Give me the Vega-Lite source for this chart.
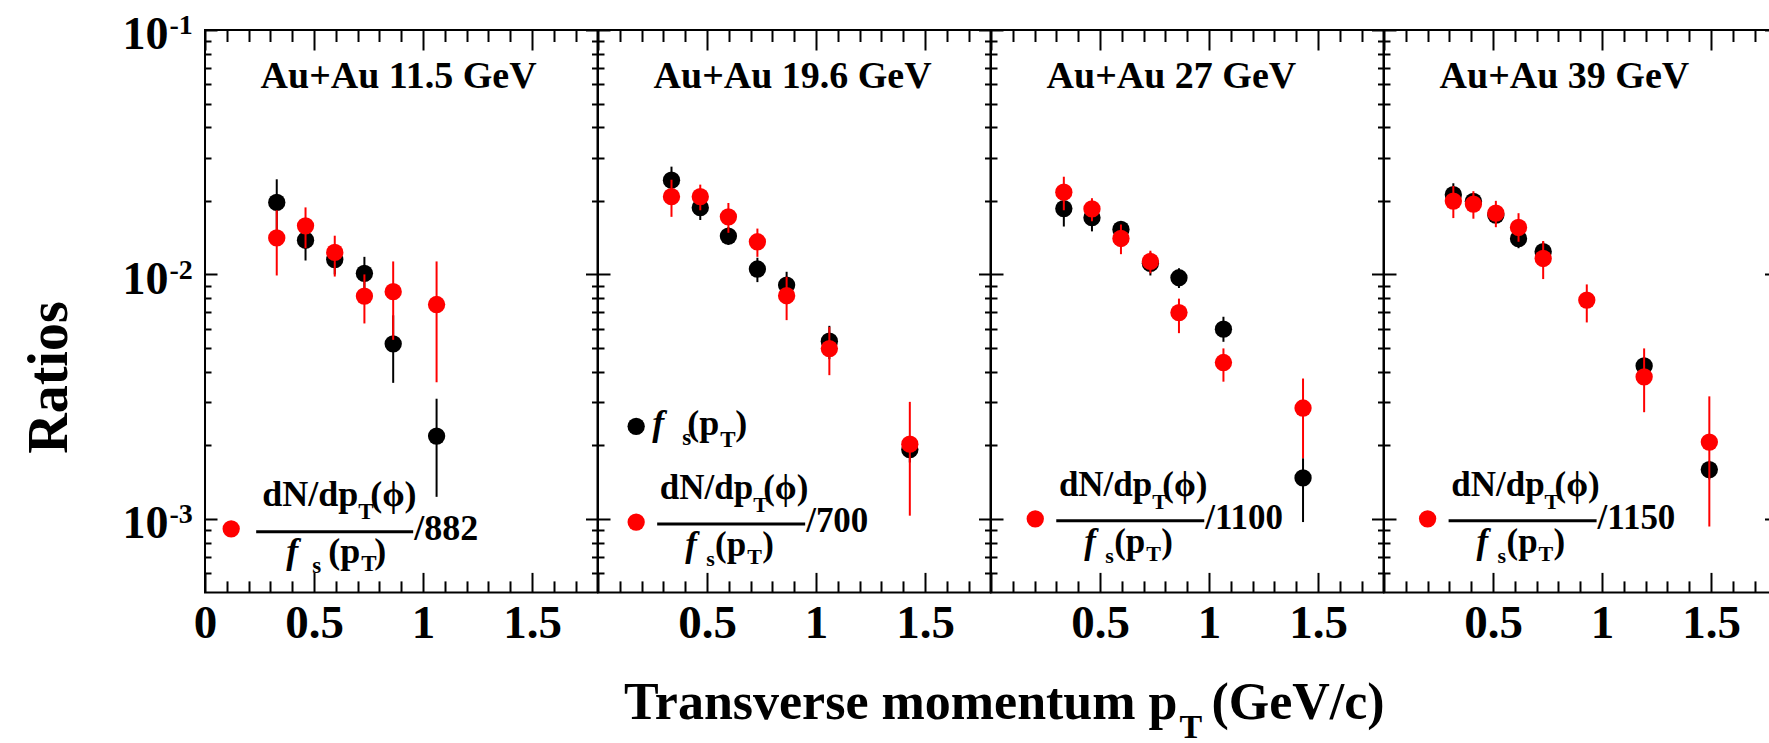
{
"$schema":"https://vega.github.io/schema/vega-lite/v6.json",
"background":"white",
"padding":{"left":20,"top":11,"right":0,"bottom":0},
"spacing":0,
"bounds":"flush",
"config":{
 "view":{"stroke":"#000000","strokeWidth":2},
 "axis":{"domain":false,"grid":false,"tickColor":"#000000","tickWidth":2,"labelColor":"#000000","labelFont":"Liberation Serif","labelFontWeight":"bold","titleColor":"#000000","titleFont":"Liberation Serif","titleFontWeight":"bold"},
 "text":{"font":"Liberation Serif","fontWeight":"bold","fill":"#000000"}
},
"datasets":{
 "pts":[
  {"p":1,"s":"fs","x":0.329,"y":0.0197,"lo":0.0149,"hi":0.0245},
  {"p":1,"s":"fs","x":0.461,"y":0.0138,"lo":0.0114,"hi":0.0162},
  {"p":1,"s":"fs","x":0.595,"y":0.0115,"lo":0.0100,"hi":0.0130},
  {"p":1,"s":"fs","x":0.731,"y":0.0101,"lo":0.0084,"hi":0.0118},
  {"p":1,"s":"fs","x":0.863,"y":0.0052,"lo":0.0036,"hi":0.0068},
  {"p":1,"s":"fs","x":1.062,"y":0.00218,"lo":0.00123,"hi":0.0031},
  {"p":1,"s":"r","x":0.329,"y":0.0141,"lo":0.0099,"hi":0.0183},
  {"p":1,"s":"r","x":0.461,"y":0.0158,"lo":0.0128,"hi":0.0188},
  {"p":1,"s":"r","x":0.595,"y":0.0123,"lo":0.0098,"hi":0.0144},
  {"p":1,"s":"r","x":0.731,"y":0.00815,"lo":0.0063,"hi":0.0100},
  {"p":1,"s":"r","x":0.863,"y":0.0085,"lo":0.0054,"hi":0.0113},
  {"p":1,"s":"r","x":1.062,"y":0.00753,"lo":0.00362,"hi":0.0113},
  {"p":2,"s":"fs","x":0.337,"y":0.0243,"lo":0.0213,"hi":0.0276},
  {"p":2,"s":"fs","x":0.469,"y":0.01875,"lo":0.0167,"hi":0.0208},
  {"p":2,"s":"fs","x":0.598,"y":0.01435,"lo":0.0132,"hi":0.0156},
  {"p":2,"s":"fs","x":0.731,"y":0.01052,"lo":0.0093,"hi":0.0117},
  {"p":2,"s":"fs","x":0.865,"y":0.00904,"lo":0.0080,"hi":0.01025},
  {"p":2,"s":"fs","x":1.061,"y":0.00533,"lo":0.0045,"hi":0.00616},
  {"p":2,"s":"fs","x":1.43,"y":0.00192,"lo":0.0017,"hi":0.0021},
  {"p":2,"s":"r","x":0.337,"y":0.0208,"lo":0.0172,"hi":0.0244},
  {"p":2,"s":"r","x":0.469,"y":0.0208,"lo":0.0183,"hi":0.0233},
  {"p":2,"s":"r","x":0.598,"y":0.0172,"lo":0.0148,"hi":0.0196},
  {"p":2,"s":"r","x":0.731,"y":0.0136,"lo":0.0118,"hi":0.0154},
  {"p":2,"s":"r","x":0.865,"y":0.00818,"lo":0.0065,"hi":0.00978},
  {"p":2,"s":"r","x":1.061,"y":0.00497,"lo":0.00387,"hi":0.0061},
  {"p":2,"s":"r","x":1.43,"y":0.00202,"lo":0.00103,"hi":0.00301},
  {"p":3,"s":"fs","x":0.334,"y":0.0186,"lo":0.0157,"hi":0.0215},
  {"p":3,"s":"fs","x":0.463,"y":0.01706,"lo":0.0150,"hi":0.0191},
  {"p":3,"s":"fs","x":0.596,"y":0.01528,"lo":0.0141,"hi":0.0165},
  {"p":3,"s":"fs","x":0.731,"y":0.0111,"lo":0.0099,"hi":0.0123},
  {"p":3,"s":"fs","x":0.862,"y":0.00969,"lo":0.0088,"hi":0.0106},
  {"p":3,"s":"fs","x":1.066,"y":0.00597,"lo":0.0053,"hi":0.00671},
  {"p":3,"s":"fs","x":1.431,"y":0.00147,"lo":0.00097,"hi":0.00177},
  {"p":3,"s":"r","x":0.334,"y":0.0217,"lo":0.0183,"hi":0.0251},
  {"p":3,"s":"r","x":0.463,"y":0.01853,"lo":0.0165,"hi":0.0205},
  {"p":3,"s":"r","x":0.596,"y":0.01403,"lo":0.0121,"hi":0.0160},
  {"p":3,"s":"r","x":0.731,"y":0.0113,"lo":0.0101,"hi":0.0125},
  {"p":3,"s":"r","x":0.862,"y":0.00698,"lo":0.00575,"hi":0.00796},
  {"p":3,"s":"r","x":1.066,"y":0.00436,"lo":0.00364,"hi":0.00498},
  {"p":3,"s":"r","x":1.431,"y":0.00284,"lo":0.00177,"hi":0.00375},
  {"p":4,"s":"fs","x":0.318,"y":0.0212,"lo":0.0195,"hi":0.0236},
  {"p":4,"s":"fs","x":0.410,"y":0.0199,"lo":0.0185,"hi":0.0213},
  {"p":4,"s":"fs","x":0.513,"y":0.0175,"lo":0.0162,"hi":0.0188},
  {"p":4,"s":"fs","x":0.617,"y":0.0140,"lo":0.0128,"hi":0.0152},
  {"p":4,"s":"fs","x":0.730,"y":0.0124,"lo":0.0112,"hi":0.0136},
  {"p":4,"s":"fs","x":1.193,"y":0.00422,"lo":0.0039,"hi":0.0046},
  {"p":4,"s":"fs","x":1.492,"y":0.00159,"lo":0.00145,"hi":0.00173},
  {"p":4,"s":"r","x":0.318,"y":0.01995,"lo":0.0170,"hi":0.0230},
  {"p":4,"s":"r","x":0.410,"y":0.0194,"lo":0.0169,"hi":0.0219},
  {"p":4,"s":"r","x":0.513,"y":0.0178,"lo":0.0156,"hi":0.0200},
  {"p":4,"s":"r","x":0.617,"y":0.01556,"lo":0.0136,"hi":0.0178},
  {"p":4,"s":"r","x":0.730,"y":0.01162,"lo":0.00957,"hi":0.0137},
  {"p":4,"s":"r","x":0.930,"y":0.00785,"lo":0.00636,"hi":0.0091},
  {"p":4,"s":"r","x":1.193,"y":0.00381,"lo":0.00273,"hi":0.00498},
  {"p":4,"s":"r","x":1.492,"y":0.00206,"lo":0.00093,"hi":0.00317}
 ],
 "ttl":[
  {"p":1,"x":0.255,"y":0.0577,"t":"Au+Au 11.5 GeV"},
  {"p":2,"x":0.255,"y":0.0577,"t":"Au+Au 19.6 GeV"},
  {"p":3,"x":0.255,"y":0.0577,"t":"Au+Au 27 GeV"},
  {"p":4,"x":0.255,"y":0.0577,"t":"Au+Au 39 GeV"}
 ],
 "leg":[
  {"p":1,"s":"r","x":0.12,"y":0.00091,"d":"/882"},
  {"p":2,"s":"r","x":0.175,"y":0.00097,"d":"/700"},
  {"p":2,"s":"fs","x":0.175,"y":0.00239,"d":""},
  {"p":3,"s":"r","x":0.203,"y":0.001,"d":"/1100"},
  {"p":4,"s":"r","x":0.2,"y":0.001,"d":"/1150"}
 ]
},
"hconcat":[
 {"width":392.5,"height":562.4,
  "resolve":{"axis":{"x":"independent","y":"independent"}},
  "layer":[
   {"data":{"name":"pts"},"transform":[{"filter":"datum.p==1&&datum.s=='fs'"}],
    "mark":{"type":"rule","color":"#000000","strokeWidth":2},
    "encoding":{
     "x":{"field":"x","type":"quantitative","scale":{"domain":[0,1.8],"nice":false,"zero":false},
      "axis":{"orient":"bottom","values":[0,0.5,1,1.5],"tickSize":-20,"labelFontSize":47,"labelPadding":28,"labelExpr":"''+datum.value","labelFlush":false,"labelOverlap":false,"labelBound":false,"title":null}},
     "y":{"field":"lo","type":"quantitative","scale":{"type":"log","domain":[0.0005,0.1],"nice":false},
      "axis":{"orient":"left","values":[0.001,0.01,0.1],"tickSize":-12,"labelFontSize":46,"labelPadding":49,"labelOffset":5,"labelExpr":"'10'","labelOverlap":false,"labelBound":false,"labelFlush":false,"title":"Ratios","titleFontSize":56,"titleX":-139,"titleY":347,"titleAlign":"center","titleBaseline":"alphabetic","titleAngle":-90}},
     "y2":{"field":"hi"}}},
   {"data":{"name":"pts"},"transform":[{"filter":"datum.p==1&&datum.s=='fs'"}],
    "mark":{"type":"point","shape":"circle","filled":true,"size":300,"color":"#000000","opacity":1},
    "encoding":{
     "x":{"field":"x","type":"quantitative","scale":{"domain":[0,1.8],"nice":false,"zero":false},
      "axis":{"orient":"bottom","values":[0.1,0.2,0.3,0.4,0.6,0.7,0.8,0.9,1.1,1.2,1.3,1.4,1.6,1.7],"tickSize":-11.5,"labels":false,"title":null}},
     "y":{"field":"y","type":"quantitative","scale":{"type":"log","domain":[0.0005,0.1],"nice":false},
      "axis":{"orient":"left","values":[0.0006,0.0007,0.0008,0.0009,0.002,0.003,0.004,0.005,0.006,0.007,0.008,0.009,0.02,0.03,0.04,0.05,0.06,0.07,0.08,0.09],"tickSize":-6,"labels":false,"title":null}}}},
   {"data":{"name":"pts"},"transform":[{"filter":"datum.p==1&&datum.s=='r'"}],
    "mark":{"type":"rule","color":"#ff0000","strokeWidth":2},
    "encoding":{
     "x":{"field":"x","type":"quantitative","scale":{"domain":[0,1.8],"nice":false,"zero":false},
      "axis":{"orient":"top","values":[0,0.5,1,1.5],"tickSize":-20,"labels":false,"title":null}},
     "y":{"field":"lo","type":"quantitative","scale":{"type":"log","domain":[0.0005,0.1],"nice":false},
      "axis":{"orient":"right","values":[0.001,0.01,0.1],"tickSize":-12,"labels":false,"title":null}},
     "y2":{"field":"hi"}}},
   {"data":{"name":"pts"},"transform":[{"filter":"datum.p==1&&datum.s=='r'"}],
    "mark":{"type":"point","shape":"circle","filled":true,"size":300,"color":"#ff0000","opacity":1},
    "encoding":{
     "x":{"field":"x","type":"quantitative","scale":{"domain":[0,1.8],"nice":false,"zero":false},
      "axis":{"orient":"top","values":[0.1,0.2,0.3,0.4,0.6,0.7,0.8,0.9,1.1,1.2,1.3,1.4,1.6,1.7],"tickSize":-11.5,"labels":false,"title":null}},
     "y":{"field":"y","type":"quantitative","scale":{"type":"log","domain":[0.0005,0.1],"nice":false},
      "axis":{"orient":"right","values":[0.0006,0.0007,0.0008,0.0009,0.002,0.003,0.004,0.005,0.006,0.007,0.008,0.009,0.02,0.03,0.04,0.05,0.06,0.07,0.08,0.09],"tickSize":-6,"labels":false,"title":null}}}},
   {"data":{"name":"ttl"},"transform":[{"filter":"datum.p==1"}],
    "mark":{"type":"text","align":"left","baseline":"alphabetic","fontSize":38,"font":"Liberation Serif","fontWeight":"bold","fill":"#000000"},
    "encoding":{"x":{"field":"x","type":"quantitative","scale":{"domain":[0,1.8],"nice":false,"zero":false},"axis":null},"y":{"field":"y","type":"quantitative","scale":{"type":"log","domain":[0.0005,0.1],"nice":false},
      "axis":{"orient":"left","values":[0.001,0.01,0.1],"ticks":false,"labelFontSize":28,"labelAlign":"left","labelBaseline":"middle","labelPadding":36,"labelOffset":-4,"labelExpr":"datum.value<0.005?'-3':datum.value<0.05?'-2':'-1'","labelOverlap":false,"labelBound":false,"labelFlush":false,"title":null}},"text":{"field":"t"}}},
   {"data":{"name":"leg"},"transform":[{"filter":"datum.p==1"}],
    "mark":{"type":"point","shape":"circle","filled":true,"size":300,"opacity":1},
    "encoding":{"x":{"field":"x","type":"quantitative","scale":{"domain":[0,1.8],"nice":false,"zero":false},"axis":null},"y":{"field":"y","type":"quantitative","scale":{"type":"log","domain":[0.0005,0.1],"nice":false},"axis":null},
     "color":{"field":"s","type":"nominal","scale":{"domain":["fs","r"],"range":["#000000","#ff0000"]},"legend":null}}},
   {"data":{"name":"leg"},"transform":[{"filter":"datum.p==1&&datum.s=='r'"}],
    "mark":{"type":"text","text":"dN/dp","align":"right","baseline":"alphabetic","dx":127,"dy":-23,"fontSize":36,"font":"Liberation Serif","fontWeight":"bold","fill":"#000000"},
    "encoding":{"x":{"field":"x","type":"quantitative","scale":{"domain":[0,1.8],"nice":false,"zero":false},"axis":null},"y":{"field":"y","type":"quantitative","scale":{"type":"log","domain":[0.0005,0.1],"nice":false},"axis":null}}},
   {"data":{"name":"leg"},"transform":[{"filter":"datum.p==1&&datum.s=='r'"}],
    "mark":{"type":"text","text":"T","align":"left","baseline":"alphabetic","dx":127,"dy":-10,"fontSize":23,"font":"Liberation Serif","fontWeight":"bold","fill":"#000000"},
    "encoding":{"x":{"field":"x","type":"quantitative","scale":{"domain":[0,1.8],"nice":false,"zero":false},"axis":null},"y":{"field":"y","type":"quantitative","scale":{"type":"log","domain":[0.0005,0.1],"nice":false},"axis":null}}},
   {"data":{"name":"leg"},"transform":[{"filter":"datum.p==1&&datum.s=='r'"}],
    "mark":{"type":"text","text":"(ϕ)","align":"left","baseline":"alphabetic","dx":139,"dy":-23,"fontSize":36,"font":"Liberation Serif","fontWeight":"bold","fill":"#000000"},
    "encoding":{"x":{"field":"x","type":"quantitative","scale":{"domain":[0,1.8],"nice":false,"zero":false},"axis":null},"y":{"field":"y","type":"quantitative","scale":{"type":"log","domain":[0.0005,0.1],"nice":false},"axis":null}}},
   {"data":{"name":"leg"},"transform":[{"filter":"datum.p==1&&datum.s=='r'"}],
    "mark":{"type":"rule","color":"#000000","strokeWidth":3,"xOffset":25,"x2Offset":182,"yOffset":3},
    "encoding":{"x":{"field":"x","type":"quantitative","scale":{"domain":[0,1.8],"nice":false,"zero":false},"axis":null},"x2":{"field":"x"},"y":{"field":"y","type":"quantitative","scale":{"type":"log","domain":[0.0005,0.1],"nice":false},"axis":null}}},
   {"data":{"name":"leg"},"transform":[{"filter":"datum.p==1&&datum.s=='r'"}],
    "mark":{"type":"text","text":"f","align":"left","baseline":"alphabetic","dx":55,"dy":34,"fontSize":36,"fontStyle":"italic","font":"Liberation Serif","fontWeight":"bold","fill":"#000000"},
    "encoding":{"x":{"field":"x","type":"quantitative","scale":{"domain":[0,1.8],"nice":false,"zero":false},"axis":null},"y":{"field":"y","type":"quantitative","scale":{"type":"log","domain":[0.0005,0.1],"nice":false},"axis":null}}},
   {"data":{"name":"leg"},"transform":[{"filter":"datum.p==1&&datum.s=='r'"}],
    "mark":{"type":"text","text":"s","align":"left","baseline":"alphabetic","dx":81,"dy":44,"fontSize":23,"font":"Liberation Serif","fontWeight":"bold","fill":"#000000"},
    "encoding":{"x":{"field":"x","type":"quantitative","scale":{"domain":[0,1.8],"nice":false,"zero":false},"axis":null},"y":{"field":"y","type":"quantitative","scale":{"type":"log","domain":[0.0005,0.1],"nice":false},"axis":null}}},
   {"data":{"name":"leg"},"transform":[{"filter":"datum.p==1&&datum.s=='r'"}],
    "mark":{"type":"text","text":"(p","align":"right","baseline":"alphabetic","dx":129,"dy":34,"fontSize":36,"font":"Liberation Serif","fontWeight":"bold","fill":"#000000"},
    "encoding":{"x":{"field":"x","type":"quantitative","scale":{"domain":[0,1.8],"nice":false,"zero":false},"axis":null},"y":{"field":"y","type":"quantitative","scale":{"type":"log","domain":[0.0005,0.1],"nice":false},"axis":null}}},
   {"data":{"name":"leg"},"transform":[{"filter":"datum.p==1&&datum.s=='r'"}],
    "mark":{"type":"text","text":"T","align":"left","baseline":"alphabetic","dx":130,"dy":42,"fontSize":23,"font":"Liberation Serif","fontWeight":"bold","fill":"#000000"},
    "encoding":{"x":{"field":"x","type":"quantitative","scale":{"domain":[0,1.8],"nice":false,"zero":false},"axis":null},"y":{"field":"y","type":"quantitative","scale":{"type":"log","domain":[0.0005,0.1],"nice":false},"axis":null}}},
   {"data":{"name":"leg"},"transform":[{"filter":"datum.p==1&&datum.s=='r'"}],
    "mark":{"type":"text","text":")","align":"left","baseline":"alphabetic","dx":143,"dy":34,"fontSize":36,"font":"Liberation Serif","fontWeight":"bold","fill":"#000000"},
    "encoding":{"x":{"field":"x","type":"quantitative","scale":{"domain":[0,1.8],"nice":false,"zero":false},"axis":null},"y":{"field":"y","type":"quantitative","scale":{"type":"log","domain":[0.0005,0.1],"nice":false},"axis":null}}},
   {"data":{"name":"leg"},"transform":[{"filter":"datum.p==1&&datum.s=='r'"}],
    "mark":{"type":"text","align":"left","baseline":"alphabetic","dx":183,"dy":11,"fontSize":36,"font":"Liberation Serif","fontWeight":"bold","fill":"#000000"},
    "encoding":{"x":{"field":"x","type":"quantitative","scale":{"domain":[0,1.8],"nice":false,"zero":false},"axis":null},"y":{"field":"y","type":"quantitative","scale":{"type":"log","domain":[0.0005,0.1],"nice":false},"axis":null},"text":{"field":"d"}}}
  ]},
 {"width":392.5,"height":562.4,
  "resolve":{"axis":{"x":"independent","y":"independent"}},
  "layer":[
   {"data":{"name":"pts"},"transform":[{"filter":"datum.p==2&&datum.s=='fs'"}],
    "mark":{"type":"rule","color":"#000000","strokeWidth":2},
    "encoding":{
     "x":{"field":"x","type":"quantitative","scale":{"domain":[0,1.8],"nice":false,"zero":false},
      "axis":{"orient":"bottom","values":[0,0.5,1,1.5],"tickSize":-20,"labelFontSize":47,"labelPadding":28,"labelExpr":"datum.value==0?'':''+datum.value","labelFlush":false,"labelOverlap":false,"labelBound":false,"title":"Transverse momentum p","titleFontSize":52,"titleAlign":"right","titleBaseline":"alphabetic","titleX":579,"titleY":126,"titleAngle":0}},
     "y":{"field":"lo","type":"quantitative","scale":{"type":"log","domain":[0.0005,0.1],"nice":false},
      "axis":{"orient":"left","values":[0.001,0.01,0.1],"tickSize":-12,"labels":false,"title":null}},
     "y2":{"field":"hi"}}},
   {"data":{"name":"pts"},"transform":[{"filter":"datum.p==2&&datum.s=='fs'"}],
    "mark":{"type":"point","shape":"circle","filled":true,"size":300,"color":"#000000","opacity":1},
    "encoding":{
     "x":{"field":"x","type":"quantitative","scale":{"domain":[0,1.8],"nice":false,"zero":false},
      "axis":{"orient":"bottom","values":[0.1,0.2,0.3,0.4,0.6,0.7,0.8,0.9,1.1,1.2,1.3,1.4,1.6,1.7],"tickSize":-11.5,"labels":false,"title":"T","titleFontSize":34,"titleAlign":"left","titleBaseline":"alphabetic","titleX":581,"titleY":145,"titleAngle":0}},
     "y":{"field":"y","type":"quantitative","scale":{"type":"log","domain":[0.0005,0.1],"nice":false},
      "axis":{"orient":"left","values":[0.0006,0.0007,0.0008,0.0009,0.002,0.003,0.004,0.005,0.006,0.007,0.008,0.009,0.02,0.03,0.04,0.05,0.06,0.07,0.08,0.09],"tickSize":-6,"labels":false,"title":null}}}},
   {"data":{"name":"pts"},"transform":[{"filter":"datum.p==2&&datum.s=='r'"}],
    "mark":{"type":"rule","color":"#ff0000","strokeWidth":2},
    "encoding":{
     "x":{"field":"x","type":"quantitative","scale":{"domain":[0,1.8],"nice":false,"zero":false},
      "axis":{"orient":"top","values":[0,0.5,1,1.5],"tickSize":-20,"labels":false,"title":null}},
     "y":{"field":"lo","type":"quantitative","scale":{"type":"log","domain":[0.0005,0.1],"nice":false},
      "axis":{"orient":"right","values":[0.001,0.01,0.1],"tickSize":-12,"labels":false,"title":null}},
     "y2":{"field":"hi"}}},
   {"data":{"name":"pts"},"transform":[{"filter":"datum.p==2&&datum.s=='r'"}],
    "mark":{"type":"point","shape":"circle","filled":true,"size":300,"color":"#ff0000","opacity":1},
    "encoding":{
     "x":{"field":"x","type":"quantitative","scale":{"domain":[0,1.8],"nice":false,"zero":false},
      "axis":{"orient":"top","values":[0.1,0.2,0.3,0.4,0.6,0.7,0.8,0.9,1.1,1.2,1.3,1.4,1.6,1.7],"tickSize":-11.5,"labels":false,"title":null}},
     "y":{"field":"y","type":"quantitative","scale":{"type":"log","domain":[0.0005,0.1],"nice":false},
      "axis":{"orient":"right","values":[0.0006,0.0007,0.0008,0.0009,0.002,0.003,0.004,0.005,0.006,0.007,0.008,0.009,0.02,0.03,0.04,0.05,0.06,0.07,0.08,0.09],"tickSize":-6,"labels":false,"title":null}}}},
   {"data":{"name":"ttl"},"transform":[{"filter":"datum.p==2"}],
    "mark":{"type":"text","align":"left","baseline":"alphabetic","fontSize":38,"font":"Liberation Serif","fontWeight":"bold","fill":"#000000"},
    "encoding":{"x":{"field":"x","type":"quantitative","scale":{"domain":[0,1.8],"nice":false,"zero":false},"axis":null},"y":{"field":"y","type":"quantitative","scale":{"type":"log","domain":[0.0005,0.1],"nice":false},"axis":null},"text":{"field":"t"}}},
   {"data":{"name":"leg"},"transform":[{"filter":"datum.p==2"}],
    "mark":{"type":"point","shape":"circle","filled":true,"size":300,"opacity":1},
    "encoding":{"x":{"field":"x","type":"quantitative","scale":{"domain":[0,1.8],"nice":false,"zero":false},"axis":null},"y":{"field":"y","type":"quantitative","scale":{"type":"log","domain":[0.0005,0.1],"nice":false},"axis":null},
     "color":{"field":"s","type":"nominal","scale":{"domain":["fs","r"],"range":["#000000","#ff0000"]},"legend":null}}},
   {"data":{"name":"leg"},"transform":[{"filter":"datum.p==2&&datum.s=='r'"}],
    "mark":{"type":"text","text":"dN/dp","align":"right","baseline":"alphabetic","dx":117,"dy":-23,"fontSize":35,"font":"Liberation Serif","fontWeight":"bold","fill":"#000000"},
    "encoding":{"x":{"field":"x","type":"quantitative","scale":{"domain":[0,1.8],"nice":false,"zero":false},"axis":null},"y":{"field":"y","type":"quantitative","scale":{"type":"log","domain":[0.0005,0.1],"nice":false},"axis":null}}},
   {"data":{"name":"leg"},"transform":[{"filter":"datum.p==2&&datum.s=='r'"}],
    "mark":{"type":"text","text":"T","align":"left","baseline":"alphabetic","dx":117,"dy":-10,"fontSize":22,"font":"Liberation Serif","fontWeight":"bold","fill":"#000000"},
    "encoding":{"x":{"field":"x","type":"quantitative","scale":{"domain":[0,1.8],"nice":false,"zero":false},"axis":null},"y":{"field":"y","type":"quantitative","scale":{"type":"log","domain":[0.0005,0.1],"nice":false},"axis":null}}},
   {"data":{"name":"leg"},"transform":[{"filter":"datum.p==2&&datum.s=='r'"}],
    "mark":{"type":"text","text":"(ϕ)","align":"left","baseline":"alphabetic","dx":127,"dy":-23,"fontSize":35,"font":"Liberation Serif","fontWeight":"bold","fill":"#000000"},
    "encoding":{"x":{"field":"x","type":"quantitative","scale":{"domain":[0,1.8],"nice":false,"zero":false},"axis":null},"y":{"field":"y","type":"quantitative","scale":{"type":"log","domain":[0.0005,0.1],"nice":false},"axis":null}}},
   {"data":{"name":"leg"},"transform":[{"filter":"datum.p==2&&datum.s=='r'"}],
    "mark":{"type":"rule","color":"#000000","strokeWidth":3,"xOffset":21,"x2Offset":169,"yOffset":2},
    "encoding":{"x":{"field":"x","type":"quantitative","scale":{"domain":[0,1.8],"nice":false,"zero":false},"axis":null},"x2":{"field":"x"},"y":{"field":"y","type":"quantitative","scale":{"type":"log","domain":[0.0005,0.1],"nice":false},"axis":null}}},
   {"data":{"name":"leg"},"transform":[{"filter":"datum.p==2&&datum.s=='r'"}],
    "mark":{"type":"text","text":"f","align":"left","baseline":"alphabetic","dx":49,"dy":34,"fontSize":35,"fontStyle":"italic","font":"Liberation Serif","fontWeight":"bold","fill":"#000000"},
    "encoding":{"x":{"field":"x","type":"quantitative","scale":{"domain":[0,1.8],"nice":false,"zero":false},"axis":null},"y":{"field":"y","type":"quantitative","scale":{"type":"log","domain":[0.0005,0.1],"nice":false},"axis":null}}},
   {"data":{"name":"leg"},"transform":[{"filter":"datum.p==2&&datum.s=='r'"}],
    "mark":{"type":"text","text":"s","align":"left","baseline":"alphabetic","dx":70,"dy":44,"fontSize":22,"font":"Liberation Serif","fontWeight":"bold","fill":"#000000"},
    "encoding":{"x":{"field":"x","type":"quantitative","scale":{"domain":[0,1.8],"nice":false,"zero":false},"axis":null},"y":{"field":"y","type":"quantitative","scale":{"type":"log","domain":[0.0005,0.1],"nice":false},"axis":null}}},
   {"data":{"name":"leg"},"transform":[{"filter":"datum.p==2&&datum.s=='r'"}],
    "mark":{"type":"text","text":"(p","align":"right","baseline":"alphabetic","dx":110,"dy":34,"fontSize":35,"font":"Liberation Serif","fontWeight":"bold","fill":"#000000"},
    "encoding":{"x":{"field":"x","type":"quantitative","scale":{"domain":[0,1.8],"nice":false,"zero":false},"axis":null},"y":{"field":"y","type":"quantitative","scale":{"type":"log","domain":[0.0005,0.1],"nice":false},"axis":null}}},
   {"data":{"name":"leg"},"transform":[{"filter":"datum.p==2&&datum.s=='r'"}],
    "mark":{"type":"text","text":"T","align":"left","baseline":"alphabetic","dx":111,"dy":42,"fontSize":22,"font":"Liberation Serif","fontWeight":"bold","fill":"#000000"},
    "encoding":{"x":{"field":"x","type":"quantitative","scale":{"domain":[0,1.8],"nice":false,"zero":false},"axis":null},"y":{"field":"y","type":"quantitative","scale":{"type":"log","domain":[0.0005,0.1],"nice":false},"axis":null}}},
   {"data":{"name":"leg"},"transform":[{"filter":"datum.p==2&&datum.s=='r'"}],
    "mark":{"type":"text","text":")","align":"left","baseline":"alphabetic","dx":126,"dy":34,"fontSize":35,"font":"Liberation Serif","fontWeight":"bold","fill":"#000000"},
    "encoding":{"x":{"field":"x","type":"quantitative","scale":{"domain":[0,1.8],"nice":false,"zero":false},"axis":null},"y":{"field":"y","type":"quantitative","scale":{"type":"log","domain":[0.0005,0.1],"nice":false},"axis":null}}},
   {"data":{"name":"leg"},"transform":[{"filter":"datum.p==2&&datum.s=='r'"}],
    "mark":{"type":"text","align":"left","baseline":"alphabetic","dx":170,"dy":10,"fontSize":35,"font":"Liberation Serif","fontWeight":"bold","fill":"#000000"},
    "encoding":{"x":{"field":"x","type":"quantitative","scale":{"domain":[0,1.8],"nice":false,"zero":false},"axis":null},"y":{"field":"y","type":"quantitative","scale":{"type":"log","domain":[0.0005,0.1],"nice":false},"axis":null},"text":{"field":"d"}}},
   {"data":{"name":"leg"},"transform":[{"filter":"datum.p==2&&datum.s=='fs'"}],
    "mark":{"type":"text","text":"f","align":"left","baseline":"alphabetic","dx":16,"dy":9,"fontSize":36,"fontStyle":"italic","font":"Liberation Serif","fontWeight":"bold","fill":"#000000"},
    "encoding":{"x":{"field":"x","type":"quantitative","scale":{"domain":[0,1.8],"nice":false,"zero":false},"axis":null},"y":{"field":"y","type":"quantitative","scale":{"type":"log","domain":[0.0005,0.1],"nice":false},"axis":null}}},
   {"data":{"name":"leg"},"transform":[{"filter":"datum.p==2&&datum.s=='fs'"}],
    "mark":{"type":"text","text":"s","align":"left","baseline":"alphabetic","dx":46,"dy":19,"fontSize":23,"font":"Liberation Serif","fontWeight":"bold","fill":"#000000"},
    "encoding":{"x":{"field":"x","type":"quantitative","scale":{"domain":[0,1.8],"nice":false,"zero":false},"axis":null},"y":{"field":"y","type":"quantitative","scale":{"type":"log","domain":[0.0005,0.1],"nice":false},"axis":null}}},
   {"data":{"name":"leg"},"transform":[{"filter":"datum.p==2&&datum.s=='fs'"}],
    "mark":{"type":"text","text":"(p","align":"right","baseline":"alphabetic","dx":83,"dy":9,"fontSize":36,"font":"Liberation Serif","fontWeight":"bold","fill":"#000000"},
    "encoding":{"x":{"field":"x","type":"quantitative","scale":{"domain":[0,1.8],"nice":false,"zero":false},"axis":null},"y":{"field":"y","type":"quantitative","scale":{"type":"log","domain":[0.0005,0.1],"nice":false},"axis":null}}},
   {"data":{"name":"leg"},"transform":[{"filter":"datum.p==2&&datum.s=='fs'"}],
    "mark":{"type":"text","text":"T","align":"left","baseline":"alphabetic","dx":84,"dy":21,"fontSize":23,"font":"Liberation Serif","fontWeight":"bold","fill":"#000000"},
    "encoding":{"x":{"field":"x","type":"quantitative","scale":{"domain":[0,1.8],"nice":false,"zero":false},"axis":null},"y":{"field":"y","type":"quantitative","scale":{"type":"log","domain":[0.0005,0.1],"nice":false},"axis":null}}},
   {"data":{"name":"leg"},"transform":[{"filter":"datum.p==2&&datum.s=='fs'"}],
    "mark":{"type":"text","text":")","align":"left","baseline":"alphabetic","dx":99,"dy":9,"fontSize":36,"font":"Liberation Serif","fontWeight":"bold","fill":"#000000"},
    "encoding":{"x":{"field":"x","type":"quantitative","scale":{"domain":[0,1.8],"nice":false,"zero":false},"axis":null},"y":{"field":"y","type":"quantitative","scale":{"type":"log","domain":[0.0005,0.1],"nice":false},"axis":null}}}
  ]},
 {"width":392.5,"height":562.4,
  "resolve":{"axis":{"x":"independent","y":"independent"}},
  "layer":[
   {"data":{"name":"pts"},"transform":[{"filter":"datum.p==3&&datum.s=='fs'"}],
    "mark":{"type":"rule","color":"#000000","strokeWidth":2},
    "encoding":{
     "x":{"field":"x","type":"quantitative","scale":{"domain":[0,1.8],"nice":false,"zero":false},
      "axis":{"orient":"bottom","values":[0,0.5,1,1.5],"tickSize":-20,"labelFontSize":47,"labelPadding":28,"labelExpr":"datum.value==0?'':''+datum.value","labelFlush":false,"labelOverlap":false,"labelBound":false,"title":"(GeV/c)","titleFontSize":52,"titleAlign":"left","titleBaseline":"alphabetic","titleX":220,"titleY":126,"titleAngle":0}},
     "y":{"field":"lo","type":"quantitative","scale":{"type":"log","domain":[0.0005,0.1],"nice":false},
      "axis":{"orient":"left","values":[0.001,0.01,0.1],"tickSize":-12,"labels":false,"title":null}},
     "y2":{"field":"hi"}}},
   {"data":{"name":"pts"},"transform":[{"filter":"datum.p==3&&datum.s=='fs'"}],
    "mark":{"type":"point","shape":"circle","filled":true,"size":300,"color":"#000000","opacity":1},
    "encoding":{
     "x":{"field":"x","type":"quantitative","scale":{"domain":[0,1.8],"nice":false,"zero":false},
      "axis":{"orient":"bottom","values":[0.1,0.2,0.3,0.4,0.6,0.7,0.8,0.9,1.1,1.2,1.3,1.4,1.6,1.7],"tickSize":-11.5,"labels":false,"title":null}},
     "y":{"field":"y","type":"quantitative","scale":{"type":"log","domain":[0.0005,0.1],"nice":false},
      "axis":{"orient":"left","values":[0.0006,0.0007,0.0008,0.0009,0.002,0.003,0.004,0.005,0.006,0.007,0.008,0.009,0.02,0.03,0.04,0.05,0.06,0.07,0.08,0.09],"tickSize":-6,"labels":false,"title":null}}}},
   {"data":{"name":"pts"},"transform":[{"filter":"datum.p==3&&datum.s=='r'"}],
    "mark":{"type":"rule","color":"#ff0000","strokeWidth":2},
    "encoding":{
     "x":{"field":"x","type":"quantitative","scale":{"domain":[0,1.8],"nice":false,"zero":false},
      "axis":{"orient":"top","values":[0,0.5,1,1.5],"tickSize":-20,"labels":false,"title":null}},
     "y":{"field":"lo","type":"quantitative","scale":{"type":"log","domain":[0.0005,0.1],"nice":false},
      "axis":{"orient":"right","values":[0.001,0.01,0.1],"tickSize":-12,"labels":false,"title":null}},
     "y2":{"field":"hi"}}},
   {"data":{"name":"pts"},"transform":[{"filter":"datum.p==3&&datum.s=='r'"}],
    "mark":{"type":"point","shape":"circle","filled":true,"size":300,"color":"#ff0000","opacity":1},
    "encoding":{
     "x":{"field":"x","type":"quantitative","scale":{"domain":[0,1.8],"nice":false,"zero":false},
      "axis":{"orient":"top","values":[0.1,0.2,0.3,0.4,0.6,0.7,0.8,0.9,1.1,1.2,1.3,1.4,1.6,1.7],"tickSize":-11.5,"labels":false,"title":null}},
     "y":{"field":"y","type":"quantitative","scale":{"type":"log","domain":[0.0005,0.1],"nice":false},
      "axis":{"orient":"right","values":[0.0006,0.0007,0.0008,0.0009,0.002,0.003,0.004,0.005,0.006,0.007,0.008,0.009,0.02,0.03,0.04,0.05,0.06,0.07,0.08,0.09],"tickSize":-6,"labels":false,"title":null}}}},
   {"data":{"name":"ttl"},"transform":[{"filter":"datum.p==3"}],
    "mark":{"type":"text","align":"left","baseline":"alphabetic","fontSize":38,"font":"Liberation Serif","fontWeight":"bold","fill":"#000000"},
    "encoding":{"x":{"field":"x","type":"quantitative","scale":{"domain":[0,1.8],"nice":false,"zero":false},"axis":null},"y":{"field":"y","type":"quantitative","scale":{"type":"log","domain":[0.0005,0.1],"nice":false},"axis":null},"text":{"field":"t"}}},
   {"data":{"name":"leg"},"transform":[{"filter":"datum.p==3"}],
    "mark":{"type":"point","shape":"circle","filled":true,"size":300,"opacity":1},
    "encoding":{"x":{"field":"x","type":"quantitative","scale":{"domain":[0,1.8],"nice":false,"zero":false},"axis":null},"y":{"field":"y","type":"quantitative","scale":{"type":"log","domain":[0.0005,0.1],"nice":false},"axis":null},
     "color":{"field":"s","type":"nominal","scale":{"domain":["fs","r"],"range":["#000000","#ff0000"]},"legend":null}}},
   {"data":{"name":"leg"},"transform":[{"filter":"datum.p==3&&datum.s=='r'"}],
    "mark":{"type":"text","text":"dN/dp","align":"right","baseline":"alphabetic","dx":117,"dy":-23,"fontSize":35,"font":"Liberation Serif","fontWeight":"bold","fill":"#000000"},
    "encoding":{"x":{"field":"x","type":"quantitative","scale":{"domain":[0,1.8],"nice":false,"zero":false},"axis":null},"y":{"field":"y","type":"quantitative","scale":{"type":"log","domain":[0.0005,0.1],"nice":false},"axis":null}}},
   {"data":{"name":"leg"},"transform":[{"filter":"datum.p==3&&datum.s=='r'"}],
    "mark":{"type":"text","text":"T","align":"left","baseline":"alphabetic","dx":117,"dy":-10,"fontSize":22,"font":"Liberation Serif","fontWeight":"bold","fill":"#000000"},
    "encoding":{"x":{"field":"x","type":"quantitative","scale":{"domain":[0,1.8],"nice":false,"zero":false},"axis":null},"y":{"field":"y","type":"quantitative","scale":{"type":"log","domain":[0.0005,0.1],"nice":false},"axis":null}}},
   {"data":{"name":"leg"},"transform":[{"filter":"datum.p==3&&datum.s=='r'"}],
    "mark":{"type":"text","text":"(ϕ)","align":"left","baseline":"alphabetic","dx":127,"dy":-23,"fontSize":35,"font":"Liberation Serif","fontWeight":"bold","fill":"#000000"},
    "encoding":{"x":{"field":"x","type":"quantitative","scale":{"domain":[0,1.8],"nice":false,"zero":false},"axis":null},"y":{"field":"y","type":"quantitative","scale":{"type":"log","domain":[0.0005,0.1],"nice":false},"axis":null}}},
   {"data":{"name":"leg"},"transform":[{"filter":"datum.p==3&&datum.s=='r'"}],
    "mark":{"type":"rule","color":"#000000","strokeWidth":3,"xOffset":21,"x2Offset":169,"yOffset":2},
    "encoding":{"x":{"field":"x","type":"quantitative","scale":{"domain":[0,1.8],"nice":false,"zero":false},"axis":null},"x2":{"field":"x"},"y":{"field":"y","type":"quantitative","scale":{"type":"log","domain":[0.0005,0.1],"nice":false},"axis":null}}},
   {"data":{"name":"leg"},"transform":[{"filter":"datum.p==3&&datum.s=='r'"}],
    "mark":{"type":"text","text":"f","align":"left","baseline":"alphabetic","dx":49,"dy":34,"fontSize":35,"fontStyle":"italic","font":"Liberation Serif","fontWeight":"bold","fill":"#000000"},
    "encoding":{"x":{"field":"x","type":"quantitative","scale":{"domain":[0,1.8],"nice":false,"zero":false},"axis":null},"y":{"field":"y","type":"quantitative","scale":{"type":"log","domain":[0.0005,0.1],"nice":false},"axis":null}}},
   {"data":{"name":"leg"},"transform":[{"filter":"datum.p==3&&datum.s=='r'"}],
    "mark":{"type":"text","text":"s","align":"left","baseline":"alphabetic","dx":70,"dy":44,"fontSize":22,"font":"Liberation Serif","fontWeight":"bold","fill":"#000000"},
    "encoding":{"x":{"field":"x","type":"quantitative","scale":{"domain":[0,1.8],"nice":false,"zero":false},"axis":null},"y":{"field":"y","type":"quantitative","scale":{"type":"log","domain":[0.0005,0.1],"nice":false},"axis":null}}},
   {"data":{"name":"leg"},"transform":[{"filter":"datum.p==3&&datum.s=='r'"}],
    "mark":{"type":"text","text":"(p","align":"right","baseline":"alphabetic","dx":110,"dy":34,"fontSize":35,"font":"Liberation Serif","fontWeight":"bold","fill":"#000000"},
    "encoding":{"x":{"field":"x","type":"quantitative","scale":{"domain":[0,1.8],"nice":false,"zero":false},"axis":null},"y":{"field":"y","type":"quantitative","scale":{"type":"log","domain":[0.0005,0.1],"nice":false},"axis":null}}},
   {"data":{"name":"leg"},"transform":[{"filter":"datum.p==3&&datum.s=='r'"}],
    "mark":{"type":"text","text":"T","align":"left","baseline":"alphabetic","dx":111,"dy":42,"fontSize":22,"font":"Liberation Serif","fontWeight":"bold","fill":"#000000"},
    "encoding":{"x":{"field":"x","type":"quantitative","scale":{"domain":[0,1.8],"nice":false,"zero":false},"axis":null},"y":{"field":"y","type":"quantitative","scale":{"type":"log","domain":[0.0005,0.1],"nice":false},"axis":null}}},
   {"data":{"name":"leg"},"transform":[{"filter":"datum.p==3&&datum.s=='r'"}],
    "mark":{"type":"text","text":")","align":"left","baseline":"alphabetic","dx":126,"dy":34,"fontSize":35,"font":"Liberation Serif","fontWeight":"bold","fill":"#000000"},
    "encoding":{"x":{"field":"x","type":"quantitative","scale":{"domain":[0,1.8],"nice":false,"zero":false},"axis":null},"y":{"field":"y","type":"quantitative","scale":{"type":"log","domain":[0.0005,0.1],"nice":false},"axis":null}}},
   {"data":{"name":"leg"},"transform":[{"filter":"datum.p==3&&datum.s=='r'"}],
    "mark":{"type":"text","align":"left","baseline":"alphabetic","dx":170,"dy":10,"fontSize":35,"font":"Liberation Serif","fontWeight":"bold","fill":"#000000"},
    "encoding":{"x":{"field":"x","type":"quantitative","scale":{"domain":[0,1.8],"nice":false,"zero":false},"axis":null},"y":{"field":"y","type":"quantitative","scale":{"type":"log","domain":[0.0005,0.1],"nice":false},"axis":null},"text":{"field":"d"}}}
  ]},
 {"width":392.5,"height":562.4,
  "resolve":{"axis":{"x":"independent","y":"independent"}},
  "layer":[
   {"data":{"name":"pts"},"transform":[{"filter":"datum.p==4&&datum.s=='fs'"}],
    "mark":{"type":"rule","color":"#000000","strokeWidth":2},
    "encoding":{
     "x":{"field":"x","type":"quantitative","scale":{"domain":[0,1.8],"nice":false,"zero":false},
      "axis":{"orient":"bottom","values":[0,0.5,1,1.5],"tickSize":-20,"labelFontSize":47,"labelPadding":28,"labelExpr":"datum.value==0?'':''+datum.value","labelFlush":false,"labelOverlap":false,"labelBound":false,"title":null}},
     "y":{"field":"lo","type":"quantitative","scale":{"type":"log","domain":[0.0005,0.1],"nice":false},
      "axis":{"orient":"left","values":[0.001,0.01,0.1],"tickSize":-12,"labels":false,"title":null}},
     "y2":{"field":"hi"}}},
   {"data":{"name":"pts"},"transform":[{"filter":"datum.p==4&&datum.s=='fs'"}],
    "mark":{"type":"point","shape":"circle","filled":true,"size":300,"color":"#000000","opacity":1},
    "encoding":{
     "x":{"field":"x","type":"quantitative","scale":{"domain":[0,1.8],"nice":false,"zero":false},
      "axis":{"orient":"bottom","values":[0.1,0.2,0.3,0.4,0.6,0.7,0.8,0.9,1.1,1.2,1.3,1.4,1.6,1.7],"tickSize":-11.5,"labels":false,"title":null}},
     "y":{"field":"y","type":"quantitative","scale":{"type":"log","domain":[0.0005,0.1],"nice":false},
      "axis":{"orient":"left","values":[0.0006,0.0007,0.0008,0.0009,0.002,0.003,0.004,0.005,0.006,0.007,0.008,0.009,0.02,0.03,0.04,0.05,0.06,0.07,0.08,0.09],"tickSize":-6,"labels":false,"title":null}}}},
   {"data":{"name":"pts"},"transform":[{"filter":"datum.p==4&&datum.s=='r'"}],
    "mark":{"type":"rule","color":"#ff0000","strokeWidth":2},
    "encoding":{
     "x":{"field":"x","type":"quantitative","scale":{"domain":[0,1.8],"nice":false,"zero":false},
      "axis":{"orient":"top","values":[0,0.5,1,1.5],"tickSize":-20,"labels":false,"title":null}},
     "y":{"field":"lo","type":"quantitative","scale":{"type":"log","domain":[0.0005,0.1],"nice":false},
      "axis":{"orient":"right","values":[0.001,0.01,0.1],"tickSize":-12,"labels":false,"title":null}},
     "y2":{"field":"hi"}}},
   {"data":{"name":"pts"},"transform":[{"filter":"datum.p==4&&datum.s=='r'"}],
    "mark":{"type":"point","shape":"circle","filled":true,"size":300,"color":"#ff0000","opacity":1},
    "encoding":{
     "x":{"field":"x","type":"quantitative","scale":{"domain":[0,1.8],"nice":false,"zero":false},
      "axis":{"orient":"top","values":[0.1,0.2,0.3,0.4,0.6,0.7,0.8,0.9,1.1,1.2,1.3,1.4,1.6,1.7],"tickSize":-11.5,"labels":false,"title":null}},
     "y":{"field":"y","type":"quantitative","scale":{"type":"log","domain":[0.0005,0.1],"nice":false},
      "axis":{"orient":"right","values":[0.0006,0.0007,0.0008,0.0009,0.002,0.003,0.004,0.005,0.006,0.007,0.008,0.009,0.02,0.03,0.04,0.05,0.06,0.07,0.08,0.09],"tickSize":-6,"labels":false,"title":null}}}},
   {"data":{"name":"ttl"},"transform":[{"filter":"datum.p==4"}],
    "mark":{"type":"text","align":"left","baseline":"alphabetic","fontSize":38,"font":"Liberation Serif","fontWeight":"bold","fill":"#000000"},
    "encoding":{"x":{"field":"x","type":"quantitative","scale":{"domain":[0,1.8],"nice":false,"zero":false},"axis":null},"y":{"field":"y","type":"quantitative","scale":{"type":"log","domain":[0.0005,0.1],"nice":false},"axis":null},"text":{"field":"t"}}},
   {"data":{"name":"leg"},"transform":[{"filter":"datum.p==4"}],
    "mark":{"type":"point","shape":"circle","filled":true,"size":300,"opacity":1},
    "encoding":{"x":{"field":"x","type":"quantitative","scale":{"domain":[0,1.8],"nice":false,"zero":false},"axis":null},"y":{"field":"y","type":"quantitative","scale":{"type":"log","domain":[0.0005,0.1],"nice":false},"axis":null},
     "color":{"field":"s","type":"nominal","scale":{"domain":["fs","r"],"range":["#000000","#ff0000"]},"legend":null}}},
   {"data":{"name":"leg"},"transform":[{"filter":"datum.p==4&&datum.s=='r'"}],
    "mark":{"type":"text","text":"dN/dp","align":"right","baseline":"alphabetic","dx":117,"dy":-23,"fontSize":35,"font":"Liberation Serif","fontWeight":"bold","fill":"#000000"},
    "encoding":{"x":{"field":"x","type":"quantitative","scale":{"domain":[0,1.8],"nice":false,"zero":false},"axis":null},"y":{"field":"y","type":"quantitative","scale":{"type":"log","domain":[0.0005,0.1],"nice":false},"axis":null}}},
   {"data":{"name":"leg"},"transform":[{"filter":"datum.p==4&&datum.s=='r'"}],
    "mark":{"type":"text","text":"T","align":"left","baseline":"alphabetic","dx":117,"dy":-10,"fontSize":22,"font":"Liberation Serif","fontWeight":"bold","fill":"#000000"},
    "encoding":{"x":{"field":"x","type":"quantitative","scale":{"domain":[0,1.8],"nice":false,"zero":false},"axis":null},"y":{"field":"y","type":"quantitative","scale":{"type":"log","domain":[0.0005,0.1],"nice":false},"axis":null}}},
   {"data":{"name":"leg"},"transform":[{"filter":"datum.p==4&&datum.s=='r'"}],
    "mark":{"type":"text","text":"(ϕ)","align":"left","baseline":"alphabetic","dx":127,"dy":-23,"fontSize":35,"font":"Liberation Serif","fontWeight":"bold","fill":"#000000"},
    "encoding":{"x":{"field":"x","type":"quantitative","scale":{"domain":[0,1.8],"nice":false,"zero":false},"axis":null},"y":{"field":"y","type":"quantitative","scale":{"type":"log","domain":[0.0005,0.1],"nice":false},"axis":null}}},
   {"data":{"name":"leg"},"transform":[{"filter":"datum.p==4&&datum.s=='r'"}],
    "mark":{"type":"rule","color":"#000000","strokeWidth":3,"xOffset":21,"x2Offset":169,"yOffset":2},
    "encoding":{"x":{"field":"x","type":"quantitative","scale":{"domain":[0,1.8],"nice":false,"zero":false},"axis":null},"x2":{"field":"x"},"y":{"field":"y","type":"quantitative","scale":{"type":"log","domain":[0.0005,0.1],"nice":false},"axis":null}}},
   {"data":{"name":"leg"},"transform":[{"filter":"datum.p==4&&datum.s=='r'"}],
    "mark":{"type":"text","text":"f","align":"left","baseline":"alphabetic","dx":49,"dy":34,"fontSize":35,"fontStyle":"italic","font":"Liberation Serif","fontWeight":"bold","fill":"#000000"},
    "encoding":{"x":{"field":"x","type":"quantitative","scale":{"domain":[0,1.8],"nice":false,"zero":false},"axis":null},"y":{"field":"y","type":"quantitative","scale":{"type":"log","domain":[0.0005,0.1],"nice":false},"axis":null}}},
   {"data":{"name":"leg"},"transform":[{"filter":"datum.p==4&&datum.s=='r'"}],
    "mark":{"type":"text","text":"s","align":"left","baseline":"alphabetic","dx":70,"dy":44,"fontSize":22,"font":"Liberation Serif","fontWeight":"bold","fill":"#000000"},
    "encoding":{"x":{"field":"x","type":"quantitative","scale":{"domain":[0,1.8],"nice":false,"zero":false},"axis":null},"y":{"field":"y","type":"quantitative","scale":{"type":"log","domain":[0.0005,0.1],"nice":false},"axis":null}}},
   {"data":{"name":"leg"},"transform":[{"filter":"datum.p==4&&datum.s=='r'"}],
    "mark":{"type":"text","text":"(p","align":"right","baseline":"alphabetic","dx":110,"dy":34,"fontSize":35,"font":"Liberation Serif","fontWeight":"bold","fill":"#000000"},
    "encoding":{"x":{"field":"x","type":"quantitative","scale":{"domain":[0,1.8],"nice":false,"zero":false},"axis":null},"y":{"field":"y","type":"quantitative","scale":{"type":"log","domain":[0.0005,0.1],"nice":false},"axis":null}}},
   {"data":{"name":"leg"},"transform":[{"filter":"datum.p==4&&datum.s=='r'"}],
    "mark":{"type":"text","text":"T","align":"left","baseline":"alphabetic","dx":111,"dy":42,"fontSize":22,"font":"Liberation Serif","fontWeight":"bold","fill":"#000000"},
    "encoding":{"x":{"field":"x","type":"quantitative","scale":{"domain":[0,1.8],"nice":false,"zero":false},"axis":null},"y":{"field":"y","type":"quantitative","scale":{"type":"log","domain":[0.0005,0.1],"nice":false},"axis":null}}},
   {"data":{"name":"leg"},"transform":[{"filter":"datum.p==4&&datum.s=='r'"}],
    "mark":{"type":"text","text":")","align":"left","baseline":"alphabetic","dx":126,"dy":34,"fontSize":35,"font":"Liberation Serif","fontWeight":"bold","fill":"#000000"},
    "encoding":{"x":{"field":"x","type":"quantitative","scale":{"domain":[0,1.8],"nice":false,"zero":false},"axis":null},"y":{"field":"y","type":"quantitative","scale":{"type":"log","domain":[0.0005,0.1],"nice":false},"axis":null}}},
   {"data":{"name":"leg"},"transform":[{"filter":"datum.p==4&&datum.s=='r'"}],
    "mark":{"type":"text","align":"left","baseline":"alphabetic","dx":170,"dy":10,"fontSize":35,"font":"Liberation Serif","fontWeight":"bold","fill":"#000000"},
    "encoding":{"x":{"field":"x","type":"quantitative","scale":{"domain":[0,1.8],"nice":false,"zero":false},"axis":null},"y":{"field":"y","type":"quantitative","scale":{"type":"log","domain":[0.0005,0.1],"nice":false},"axis":null},"text":{"field":"d"}}}
  ]}
]
}
